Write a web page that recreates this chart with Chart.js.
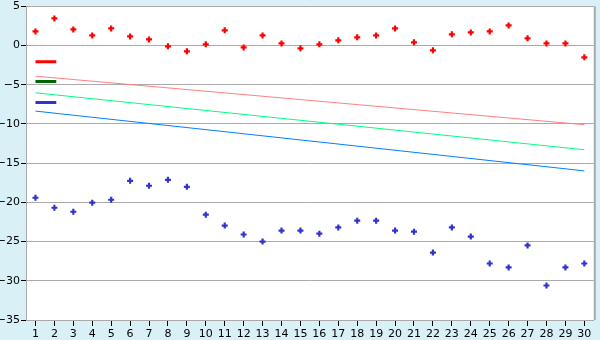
<!DOCTYPE html>
<html>
<head>
<meta charset="utf-8">
<script src="https://cdn.jsdelivr.net/npm/chart.js@4/dist/chart.umd.min.js"></script>
<style>
html,body{margin:0;padding:0;background:#daf0f7;}
#wrap{width:600px;height:340px;}
</style>
</head>
<body>
<div id="wrap"><canvas id="c" width="600" height="340"></canvas></div>
<script>
// ---- data ----
const xLabels = [1,2,3,4,5,6,7,8,9,10,11,12,13,14,15,16,17,18,19,20,21,22,23,24,25,26,27,28,29,30];
const redValues = [1.79,3.44,2.04,1.28,2.17,1.15,0.77,-0.12,-0.75,0.14,1.92,-0.25,1.28,0.26,-0.37,0.14,0.65,1.03,1.28,2.17,0.39,-0.63,1.41,1.66,1.79,2.55,0.90,0.26,0.26,-1.52];
const blueValues = [-19.42,-20.69,-21.2,-20.05,-19.67,-17.26,-17.89,-17.13,-18.02,-21.58,-22.97,-24.1,-25.0,-23.6,-23.6,-23.99,-23.2,-22.34,-22.34,-23.6,-23.74,-26.4,-23.2,-24.37,-27.8,-28.3,-25.5,-30.6,-28.3,-27.8];
const trendStart = [-3.92, -6.04, -8.37];   // pink, green, blue at x=1
const trendEnd   = [-10.1, -13.3, -15.99];  // pink, green, blue at x=30
const markerLevels = [-2.07, -4.6, -7.27];  // short swatches at left: red, dark green, blue
const markerSpan = [1, 2.1];
const yTicks = [5,0,-5,-10,-15,-20,-25,-30,-35];

const trendColors = ['#ff8080', '#00ff80', '#0080ff'];
const markerColors = ['#ff0000', '#006600', '#3333cc'];

const pts = (vals) => vals.map((v, i) => ({x: xLabels[i], y: v}));
const datasets = [];
for (let i = 0; i < 3; i++) {
  datasets.push({
    type: 'line',
    data: [{x: xLabels[0], y: trendStart[i]}, {x: xLabels[xLabels.length - 1], y: trendEnd[i]}],
    borderColor: trendColors[i], borderWidth: 1, pointRadius: 0, fill: false, tension: 0
  });
  datasets.push({
    type: 'line',
    data: [{x: markerSpan[0], y: markerLevels[i]}, {x: markerSpan[1], y: markerLevels[i]}],
    borderColor: markerColors[i], borderWidth: 3, pointRadius: 0, fill: false, borderCapStyle: 'butt'
  });
}
datasets.push({
  type: 'scatter', data: pts(redValues),
  pointStyle: 'cross', pointRadius: 3, borderColor: '#ff0000', backgroundColor: '#ff0000', pointBorderWidth: 2.2, showLine: false
});
datasets.push({
  type: 'scatter', data: pts(blueValues),
  pointStyle: 'cross', pointRadius: 3, borderColor: '#3333cc', backgroundColor: '#3333cc', pointBorderWidth: 2.2, showLine: false
});

const bgPlugin = {
  id: 'bg',
  beforeDraw(chart) {
    const {ctx, chartArea: a} = chart;
    ctx.save();
    ctx.fillStyle = '#daf0f7';
    ctx.fillRect(0, 0, chart.width, chart.height);
    ctx.fillStyle = '#ffffff';
    ctx.fillRect(a.left, a.top, a.right - a.left, a.bottom - a.top);
    ctx.restore();
  },
  afterDraw(chart) {
    const {ctx, chartArea: a} = chart;
    ctx.save();
    ctx.strokeStyle = '#aaaaaa';
    ctx.lineWidth = 2;
    ctx.beginPath();
    ctx.moveTo(a.right + 1, a.top);
    ctx.lineTo(a.right + 1, a.bottom);
    ctx.stroke();
    ctx.restore();
  }
};

const fmt = (v) => String(v).replace('-', '\u2212');

new Chart(document.getElementById('c'), {
  data: {datasets},
  plugins: [bgPlugin],
  options: {
    responsive: false,
    animation: false,
    layout: {padding: {top: 5, right: 4, left: 0, bottom: 0}},
    plugins: {legend: {display: false}, tooltip: {enabled: false}},
    scales: {
      x: {
        type: 'linear', min: 0.5, max: 30.5,
        afterBuildTicks(scale) { scale.ticks = xLabels.map(v => ({value: v})); },
        afterFit(scale) { scale.height = 20; scale.paddingLeft = 0; scale.paddingRight = 0; },
        ticks: {autoSkip: false, maxRotation: 0, padding: 2, color: '#000', font: {family: 'DejaVu Sans', size: 11}},
        grid: {drawOnChartArea: false, tickLength: 6, tickColor: '#000', tickWidth: 1},
        border: {color: '#aaaaaa', width: 1}
      },
      y: {
        min: -35, max: 5,
        afterBuildTicks(scale) { scale.ticks = yTicks.map(v => ({value: v})); },
        afterFit(scale) { scale.width = 26; scale.paddingTop = 0; scale.paddingBottom = 0; },
        ticks: {padding: 1, color: '#000', font: {family: 'DejaVu Sans', size: 11}, callback: fmt},
        grid: {color: '#aaaaaa', lineWidth: 1, tickLength: 5, tickColor: '#000'},
        border: {color: '#aaaaaa', width: 1}
      }
    }
  }
});
</script>
</body>
</html>
